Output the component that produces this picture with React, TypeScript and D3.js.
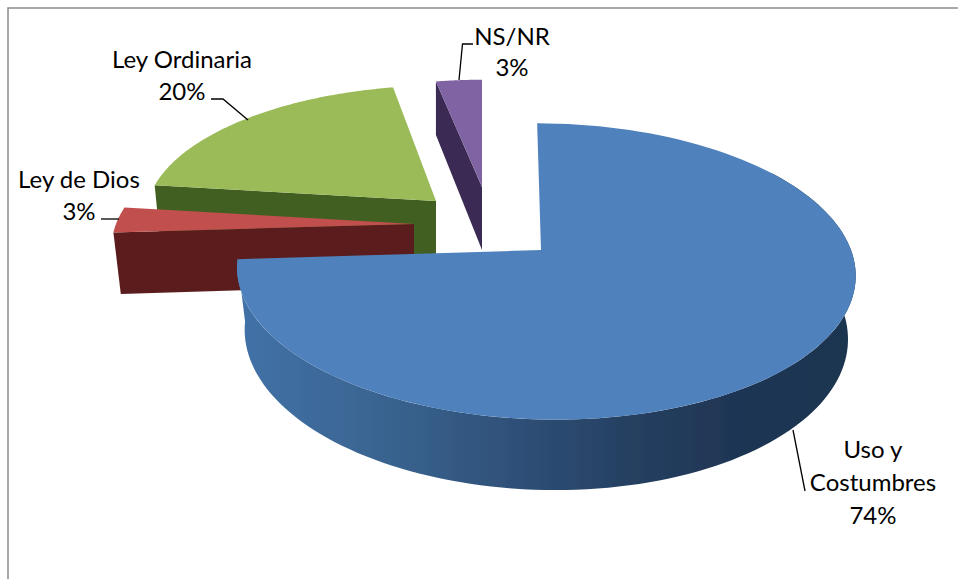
import React from "react";
import * as d3 from "d3";

const categories = ["Uso y Costumbres", "Ley de Dios", "Ley Ordinaria", "NS/NR"];
const shares = [74, 3, 20, 3];
const topColors = ["#4f81bd", "#c0504d", "#9bbb59", "#8064a2"];
const faceColors = ["#2c4d74", "#5a1d1a", "#425f20", "#3a2c52"];

// One projection per exploded slice: apex, arc centre x, radii, perspective, shear, extrusion.
type Proj = { ax: number; ay: number; cx: number; R: number; S: number; p: number; sh: number; dy: number; kR: number; kS: number };
const projections: Proj[] = [
  { ax: 541, ay: 250, cx: 545, R: 306, S: 145, p: 0.145, sh: -9, dy: 62, kR: 0.975, kS: 1.05 },
  { ax: 414, ay: 224, cx: 411, R: 295, S: 134, p: 0.1, sh: 21, dy: 61, kR: 0.975, kS: 1.05 },
  { ax: 436, ay: 201, cx: 436, R: 288, S: 127, p: 0.1, sh: 7, dy: 58, kR: 0.98, kS: 1.05 },
  { ax: 482, ay: 187, cx: 482, R: 270, S: 118, p: 0.1, sh: 0, dy: 63, kR: 1, kS: 1.09 },
];
// Which radial cut is visible for each slice
const visibleCut: ("start" | "end" | null)[] = [null, "start", "start", "start"];

const labelLines = [["Uso y", "Costumbres", "74%"], ["Ley de Dios", "3%"], ["Ley Ordinaria", "20%"], ["NS/NR", "3%"]];
const labelAnchors = [[873, 458, 33], [79, 188, 32], [182, 68, 32], [512, 45, 31]];
const leaders = [
  [[793, 430], [805, 491]],
  [[101, 219], [119, 219]],
  [[211, 99], [223, 99], [248, 120]],
  [[459, 80], [462.5, 44], [473, 44]],
];

const wallStops: [number, string][] = [
  [0, "#4272a8"], [0.25, "#39638f"], [0.45, "#2f5078"], [0.65, "#253f60"], [0.8, "#1f3654"], [1, "#1f3450"],
];

function pt(q: Proj, a: number, low = false): [number, number] {
  const u = Math.sin(a), v = Math.cos(a), w = 1 + q.p * v;
  const k = low ? q.kR : 1, ks = low ? q.kS : 1, d = low ? q.dy : 0;
  return [q.cx + (k * q.R * u + q.sh * v) / w, q.ay + d - (ks * q.S * v) / w];
}
function sweep(q: Proj, a0: number, a1: number, low = false): [number, number][] {
  const n = 120;
  return d3.range(n + 1).map((i) => pt(q, a0 + ((a1 - a0) * i) / n, low));
}

export default function App() {
  const arcs = d3.pie<number>().sort(null).value((d) => d)(shares);
  const line = d3.line();
  const order = [2, 1, 3, 0];
  const wall = { a0: (55 * Math.PI) / 180 };
  return (
    <svg width={959} height={579} style={{ position: "absolute", left: 0, top: 0, display: "block", background: "#fff" }}>
      <defs>
        <linearGradient id="wall" gradientUnits="userSpaceOnUse" x1={235} x2={855} y1={0} y2={0}>
          {wallStops.map(([o, c]) => <stop key={o} offset={o} stopColor={c} />)}
        </linearGradient>
        <filter id="soft" x="-5%" y="-5%" width="110%" height="110%">
          <feGaussianBlur stdDeviation={0.5} />
        </filter>
      </defs>
      <path d="M8,579 V8 H958" fill="none" stroke="#8a8a8a" strokeWidth={1.5} />
      <g filter="url(#soft)">
        {order.map((i) => {
          const q = projections[i];
          const a = arcs[i];
          const cut = visibleCut[i];
          const cutA = cut === "start" ? a.startAngle : a.endAngle;
          const apexTop: [number, number] = [q.ax, q.ay];
          const apexLow: [number, number] = [q.ax, q.ay + q.dy];
          return (
            <g key={categories[i]}>
              {cut && (
                <path d={line([apexTop, pt(q, cutA), pt(q, cutA, true), apexLow])! + "Z"} fill={faceColors[i]} />
              )}
              {i === 0 && (
                <path
                  d={line([...sweep(q, wall.a0, a.endAngle), ...sweep(q, wall.a0, a.endAngle, true).reverse()])! + "Z"}
                  fill="url(#wall)"
                />
              )}
              <path d={line([apexTop, ...sweep(q, a.startAngle, a.endAngle)])! + "Z"} fill={topColors[i]} />
            </g>
          );
        })}
      </g>
      {leaders.map((l, i) => (
        <path key={i} d={line(l as [number, number][])!} fill="none" stroke="#000" strokeWidth={1.3} />
      ))}
      {labelLines.map((lines, i) => (
        <text key={i} textAnchor="middle" fontFamily="Lato, 'Open Sans', sans-serif" fontSize={24} fill="#000">
          {lines.map((t, j) => (
            <tspan key={j} x={labelAnchors[i][0]} y={labelAnchors[i][1] + j * labelAnchors[i][2]}>{t}</tspan>
          ))}
        </text>
      ))}
    </svg>
  );
}
